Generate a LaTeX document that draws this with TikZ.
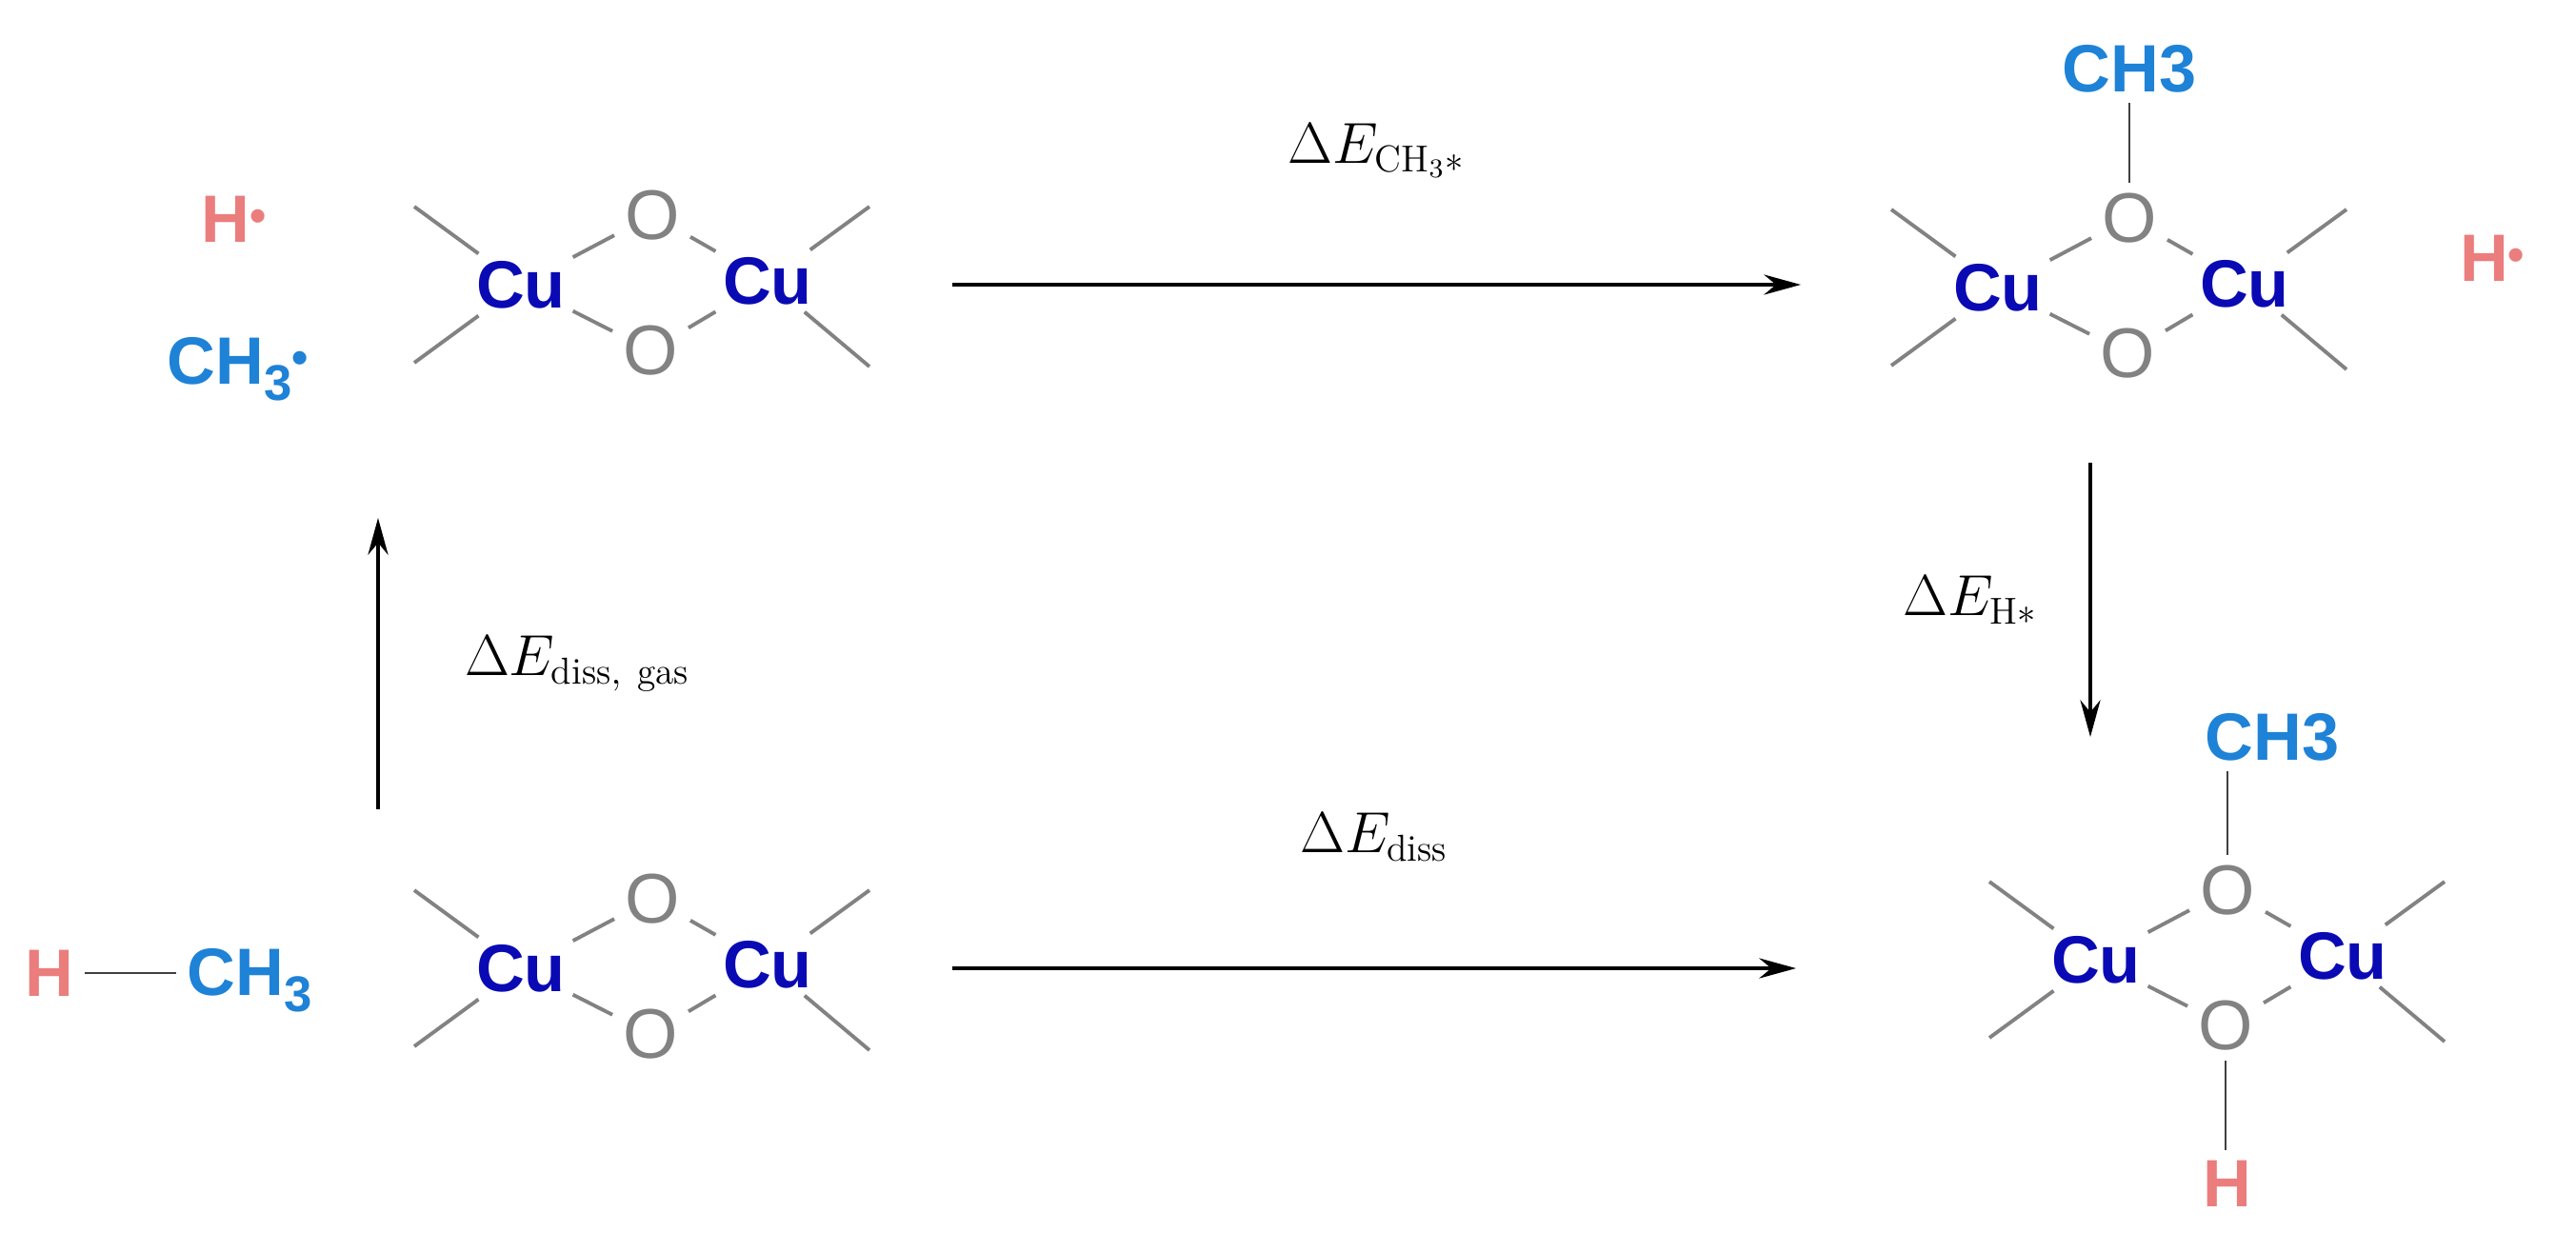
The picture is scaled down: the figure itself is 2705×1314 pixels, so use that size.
\documentclass[tikz,border=0pt]{standalone}
\usepackage{fontspec}
\newfontfamily\hv{Liberation Sans}
\usetikzlibrary{arrows.meta}
\definecolor{cublue}{RGB}{10,10,180}
\definecolor{ogray}{RGB}{130,130,130}
\definecolor{meblue}{RGB}{30,130,215}
\definecolor{hred}{RGB}{235,125,125}
\newcommand{\rdot}{\raisebox{0.3ex}{\fontsize{14}{14}\selectfont•}}
\newcommand{\subthree}{\raisebox{-0.45ex}{\fontsize{15}{15}\selectfont 3}}
\tikzset{
 cu/.style={font=\hv\bfseries\fontsize{20}{22}\selectfont, text=cublue, inner sep=2pt},
 ox/.style={font=\hv\fontsize{21}{22}\selectfont, text=ogray, inner sep=3pt},
 me/.style={font=\hv\bfseries\fontsize{20}{22}\selectfont, text=meblue, inner sep=3pt},
 hh/.style={font=\hv\bfseries\fontsize{20}{22}\selectfont, text=hred, inner sep=3pt},
 bond/.style={draw=ogray, line width=1.1pt},
 vb/.style={draw=black!75, line width=0.8pt},
 rx/.style={-{Stealth[length=11pt,width=6pt]}, line width=1.1pt},
 lab/.style={font=\fontsize{16}{18}\selectfont},
 core/.pic={
  \node[cu] (-cl) at (0,0) {Cu};
  \node[cu] (-cr) at (259,-4) {Cu};
  \node[ox] (-ot) at (138,-73) {O};
  \node[ox] (-ob) at (136,69) {O};
  \draw[bond] (-cl)--(-ot)--(-cr)--(-ob)--(-cl);
  \coordinate (-s1) at (-112,-82);
  \coordinate (-s2) at (-112,82);
  \coordinate (-s3) at (366,-82);
  \coordinate (-s4) at (366,86);
  \draw[bond] (-cl)--(-s1) (-cl)--(-s2) (-cr)--(-s3) (-cr)--(-s4);
 }
}
\begin{document}
\begin{tikzpicture}[x=0.01cm,y=-0.01cm]
\useasboundingbox (0,0) rectangle (2705,1314);
\pic (tl) at (547,299) {core};
\pic (tr) at (2098,302) {core};
\pic (bl) at (547,1017) {core};
\pic (br) at (2201,1008) {core};
% top-left radicals
\node[hh] (h1) at (246,230) {H\rdot};
\node[me] (m1) at (250,388) {CH\subthree\rdot};
% top-right
\node[me] (m2) at (2236,72) {CH3};
\draw[vb] (tr-ot) -- (m2);
\node[hh] (h2) at (2617,271) {H\rdot};
% bottom-left methane
\node[hh] (h3) at (52,1022) {H};
\node[me] (m3) at (262,1030) {CH\subthree};
\draw[vb] (h3) -- (m3.west |- h3);
% bottom-right
\node[me] (m4) at (2386,774) {CH3};
\draw[vb] (br-ot) -- (br-ot |- m4.south);
\node[hh] (h4) at (2339,1243) {H};
\draw[vb] (br-ob) -- (br-ob |- h4.north);
% arrows
\coordinate (a1s) at (1000,299); \coordinate (a1e) at (1891,299);
\draw[rx] (a1s) -- node[lab, above=28pt] {$\Delta E_{\mathrm{CH_3*}}$} (a1e);
\coordinate (a2s) at (1000,1017); \coordinate (a2e) at (1886,1017);
\draw[rx] (a2s) -- node[lab, above=28pt] {$\Delta E_{\mathrm{diss}}$} (a2e);
\coordinate (a3s) at (397,850); \coordinate (a3e) at (397,544);
\draw[rx] (a3s) -- node[lab, right=22pt] {$\Delta E_{\mathrm{diss,\ gas}}$} (a3e);
\coordinate (a4s) at (2195,486); \coordinate (a4e) at (2195,774);
\draw[rx] (a4s) -- node[lab, left=12pt] {$\Delta E_{\mathrm{H*}}$} (a4e);
\end{tikzpicture}
\end{document}
